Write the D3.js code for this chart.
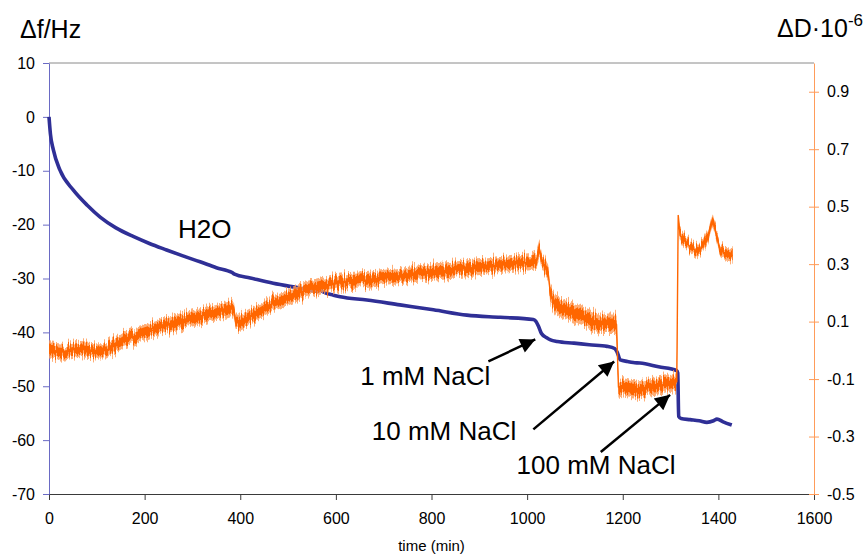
<!DOCTYPE html>
<html>
<head>
<meta charset="utf-8">
<script src="https://cdn.jsdelivr.net/npm/d3@7/dist/d3.min.js"></script>
<style>
  body { margin: 0; background: #fff; }
  svg { display: block; font-family: Arial, "Liberation Sans", sans-serif; }
</style>
</head>
<body>
<div id="svganchor"></div>
<script>
/*
------------------------------
METHOD: data (time in min, frequency shift in Hz, dissipation in 1e-6)
------------------------------
*/
const fTime = [0, 3, 9, 23, 51, 80, 107, 140, 176, 210, 246, 280, 316, 350, 383, 388, 421, 469, 526, 562,
  567, 574, 595, 609, 665, 734, 804, 874, 944, 1013, 1018, 1024, 1030, 1041, 1049, 1063, 1098, 1130, 1167, 1183,
  1188, 1195, 1210, 1222, 1236, 1275, 1313, 1315, 1317, 1322, 1341, 1360, 1376, 1390, 1397, 1410, 1428];
const fValues = [0, -3.2, -6.1, -9.9, -13.6, -16.4, -18.6, -20.6, -22.2, -23.5, -24.7, -25.8, -26.9, -28.0, -28.9, -29.2, -29.9, -30.9, -31.8, -32.4,
  -32.1, -32.5, -33.1, -33.4, -34.0, -34.9, -35.8, -36.8, -37.2, -37.6, -37.9, -38.9, -40.2, -41.0, -41.4, -41.7, -42.0, -42.3, -42.6, -43.0,
  -43.6, -45.1, -45.4, -45.6, -45.7, -46.4, -47.1, -47.5, -55.6, -56.0, -56.2, -56.4, -56.7, -56.4, -56.1, -56.6, -57.2];

const dTime = [0, 30, 60, 95, 120, 141, 155, 200, 260, 320, 379, 386, 390, 400, 430, 469, 539, 609, 665, 740,
  804, 870, 944, 1013, 1020, 1026, 1031, 1038, 1044, 1049, 1060, 1083, 1118, 1153, 1184, 1187, 1191, 1222, 1257, 1290,
  1313, 1316, 1320, 1330, 1341, 1355, 1366, 1378, 1388, 1396, 1404, 1415, 1430];
const dValues = [0.0, -0.005, 0.005, 0.0, 0.0, 0.02, 0.036, 0.06, 0.094, 0.12, 0.146, 0.15, 0.10, 0.10, 0.125, 0.164, 0.21, 0.239, 0.245, 0.26,
  0.274, 0.285, 0.297, 0.308, 0.315, 0.349, 0.31, 0.291, 0.27, 0.19, 0.16, 0.14, 0.117, 0.094, 0.094, 0.09, -0.127, -0.138, -0.127, -0.12,
  -0.109, 0.471, 0.40, 0.38, 0.36, 0.345, 0.36, 0.40, 0.455, 0.40, 0.35, 0.335, 0.33];
// half width of the noise band around dValues
const dNoise = [0.028, 0.028, 0.028, 0.028, 0.028, 0.028, 0.028, 0.028, 0.028, 0.028, 0.028, 0.028, 0.028, 0.028, 0.028, 0.028, 0.028, 0.028, 0.028, 0.028,
  0.028, 0.028, 0.028, 0.028, 0.028, 0.028, 0.028, 0.028, 0.028, 0.034, 0.034, 0.034, 0.034, 0.034, 0.034, 0.034, 0.03, 0.03, 0.03, 0.03,
  0.03, 0.004, 0.022, 0.022, 0.022, 0.022, 0.022, 0.022, 0.022, 0.022, 0.022, 0.022, 0.022];

const xTicks = [0, 200, 400, 600, 800, 1000, 1200, 1400, 1600];
const fTicks = [-70, -60, -50, -40, -30, -20, -10, 0, 10];
const dTicks = [-0.5, -0.3, -0.1, 0.1, 0.3, 0.5, 0.7, 0.9];

const notes = [
  { label: "H2O", at: [270, -22.5] },
  { label: "1 mM NaCl", at: [651, -49.8], from: [919, -45.4], to: [1017, -41.3] },
  { label: "10 mM NaCl", at: [675, -60.0], from: [1013, -58.0], to: [1182, -45.4] },
  { label: "100 mM NaCl", at: [978, -66.3], from: [1154, -62.2], to: [1299, -51.6] }
];

/*
------------------------------
METHOD: canvas size and scales
------------------------------
*/
let margin = { top: 63, right: 51, bottom: 62, left: 49 };
let width = 865 - margin.left - margin.right;
let height = 556 - margin.top - margin.bottom;

const svgRoot = d3.select("#svganchor").append("svg")
  .attr("width", 865)
  .attr("height", 556);

const defs = svgRoot.append("defs");
defs.append("marker")
  .attr("id", "head")
  .attr("viewBox", "0 0 10 10")
  .attr("refX", 10).attr("refY", 5)
  .attr("markerWidth", 7).attr("markerHeight", 6)
  .attr("markerUnits", "strokeWidth")
  .attr("orient", "auto")
  .append("path").attr("d", "M0,0L10,5L0,10Z").attr("fill", "#000");

// roughen the orange band vertically so it reads as a noisy trace
const rough = defs.append("filter").attr("id", "rough")
  .attr("x", "-1%").attr("y", "-30%").attr("width", "102%").attr("height", "160%")
  .attr("color-interpolation-filters", "sRGB");
rough.append("feTurbulence").attr("type", "fractalNoise")
  .attr("baseFrequency", "0.9 0.02").attr("numOctaves", 2).attr("seed", 4).attr("result", "n");
rough.append("feColorMatrix").attr("in", "n").attr("type", "matrix")
  .attr("values", "1 0 0 0 0  0 0 0 0 0.5  0 0 0 0 0  0 0 0 0 1").attr("result", "m");
rough.append("feDisplacementMap").attr("in", "SourceGraphic").attr("in2", "m")
  .attr("scale", 18).attr("xChannelSelector", "G").attr("yChannelSelector", "R");

const svg = svgRoot.append("g")
  .attr("transform", "translate(" + margin.left + "," + margin.top + ")");

const x = d3.scaleLinear().domain([0, 1600]).range([0, width]);
const yF = d3.scaleLinear().domain([-70, 10]).range([height, 0]);
const yD = d3.scaleLinear().domain([-0.5, 1.0]).range([height, 0]);

/*
------------------------------
METHOD: axes
------------------------------
*/
svg.append("line")
  .attr("x1", 0).attr("x2", width).attr("y1", 0).attr("y2", 0)
  .attr("stroke", "#8a8a8a").attr("stroke-width", 1);

const gx = svg.append("g")
  .attr("transform", "translate(0," + height + ")")
  .call(d3.axisBottom(x).tickValues(xTicks).tickSize(6).tickSizeOuter(0).tickPadding(13)
    .tickFormat(d => String(d)));
gx.selectAll("path, line").attr("stroke", "#3a3a3a");

const gl = svg.append("g")
  .call(d3.axisLeft(yF).tickValues(fTicks).tickSize(6).tickSizeOuter(0).tickPadding(8)
    .tickFormat(d => String(d)));
gl.selectAll("path, line").attr("stroke", "#6a6ac4");

const gr = svg.append("g")
  .attr("transform", "translate(" + width + ",0)")
  .call(d3.axisRight(yD).tickValues(dTicks).tickSize(5).tickSizeOuter(0).tickPadding(8)
    .tickFormat(d => d.toFixed(1)));
gr.selectAll("path, line").attr("stroke", "#ff9c5a");
gr.selectAll(".tick line").attr("x1", -5);

svg.selectAll(".tick text")
  .attr("fill", "#000")
  .attr("font-size", "16px")
  .attr("font-family", "Arial, 'Liberation Sans', sans-serif");

/*
------------------------------
METHOD: the two traces
------------------------------
*/
const fLine = d3.line()
  .x((d, i) => x(fTime[i]))
  .y(d => yF(d))
  .curve(d3.curveMonotoneX);

svg.append("path")
  .datum(fValues)
  .attr("d", fLine)
  .attr("fill", "none")
  .attr("stroke", "#2f2f96")
  .attr("stroke-width", 3.6)
  .attr("stroke-linejoin", "round");

const dArea = d3.area()
  .x((d, i) => x(dTime[i]))
  .y0((d, i) => yD(d - dNoise[i]))
  .y1((d, i) => yD(d + dNoise[i]));

const dLine = d3.line()
  .x((d, i) => x(dTime[i]))
  .y(d => yD(d));

svg.append("path")
  .datum(dValues)
  .attr("d", dArea)
  .attr("fill", "#ff9a55")
  .attr("opacity", 0.8)
  .attr("filter", "url(#rough)");

svg.append("path")
  .datum(dValues)
  .attr("d", d3.area()
    .x((d, i) => x(dTime[i]))
    .y0((d, i) => yD(d - dNoise[i] * 0.6))
    .y1((d, i) => yD(d + dNoise[i] * 0.6)))
  .attr("fill", "#ff6600")
  .attr("filter", "url(#rough)");

svg.append("path")
  .datum(dValues)
  .attr("d", dLine)
  .attr("fill", "none")
  .attr("stroke", "#ff6600")
  .attr("stroke-width", 1.4);

/*
------------------------------
METHOD: titles and annotations
------------------------------
*/
svgRoot.append("text")
  .attr("x", 20).attr("y", 38)
  .attr("font-size", "25px")
  .text("\u0394f/Hz");

const dTitle = svgRoot.append("text")
  .attr("x", 863).attr("y", 37)
  .attr("text-anchor", "end")
  .attr("font-size", "25px");
dTitle.append("tspan").text("\u0394D\u00b710");
dTitle.append("tspan").attr("dy", -11).attr("font-size", "17px").text("-6");

svgRoot.append("text")
  .attr("x", margin.left + width / 2).attr("y", 551)
  .attr("text-anchor", "middle")
  .attr("font-size", "15px")
  .text("time (min)");

notes.forEach(n => {
  svg.append("text")
    .attr("x", x(n.at[0])).attr("y", yF(n.at[1]))
    .attr("font-size", "26px")
    .text(n.label);
  if (n.from) {
    svg.append("line")
      .attr("x1", x(n.from[0])).attr("y1", yF(n.from[1]))
      .attr("x2", x(n.to[0])).attr("y2", yF(n.to[1]))
      .attr("stroke", "#000")
      .attr("stroke-width", 2.5)
      .attr("marker-end", "url(#head)");
  }
});
</script>
</body>
</html>
